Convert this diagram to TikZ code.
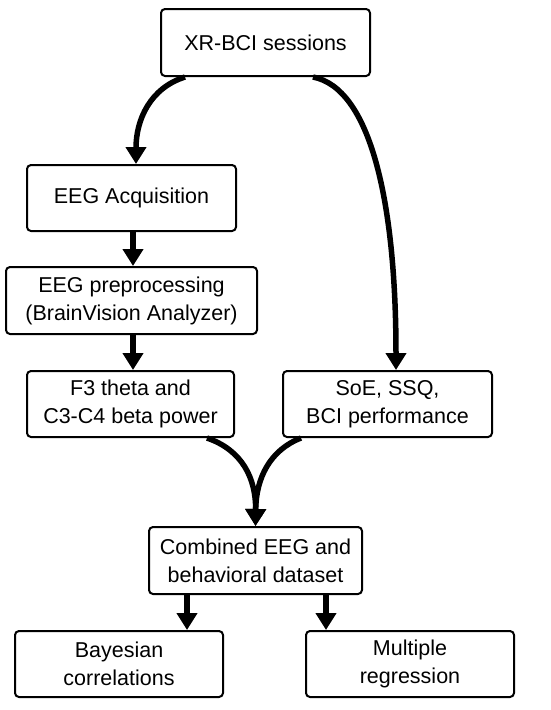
\documentclass[tikz,border=0pt]{standalone}
\usepackage{fontspec}
\setmainfont{Liberation Sans}
\usetikzlibrary{arrows.meta}
\begin{document}
\begin{tikzpicture}[x=1pt,y=-1pt,
  box/.style={draw=black,line width=2pt,rounded corners=4pt,fill=white,inner sep=0pt,align=center,
    font=\fontsize{21.5}{28}\selectfont},
  flow/.style={line width=5.5pt,-{Triangle[length=17pt,width=20pt]}}]
\fill[white] (0,0) rectangle (550,710);
\useasboundingbox (0,0) rectangle (550,710);
\node[box,minimum width=209pt,minimum height=67pt] (top) at (265.5,42.5) {XR-BCI sessions};
\node[box,minimum width=209pt,minimum height=66pt] (acq) at (131.5,198) {EEG Acquisition};
\node[box,minimum width=251pt,minimum height=67pt] (pre) at (131.5,300.5) {EEG preprocessing\\(BrainVision Analyzer)};
\node[box,minimum width=207pt,minimum height=66pt] (f3) at (130.5,404) {F3 theta and\\C3-C4 beta power};
\node[box,minimum width=209pt,minimum height=66pt] (soe) at (387.5,404) {SoE, SSQ,\\BCI performance};
\node[box,minimum width=213pt,minimum height=67pt] (comb) at (255.5,560.5) {Combined EEG and\\behavioral dataset};
\node[box,minimum width=208pt,minimum height=66pt] (bay) at (119,664) {Bayesian\\correlations};
\node[box,minimum width=208pt,minimum height=66pt] (mult) at (410,664) {Multiple\\regression};

\draw[flow] ([xshift=25pt]top.south west) .. controls (150,88) and (136,120) .. ([xshift=4.5pt]acq.north);
\draw[flow] ([xshift=-58pt]top.south east) .. controls (370,88) and (396,200) .. ([xshift=8.5pt]soe.north);
\draw[flow] ([xshift=1.5pt]acq.south) -- ([xshift=1.5pt]pre.north);
\draw[flow] ([xshift=1.5pt]pre.south) -- ([xshift=2.5pt]f3.north);
\draw[flow] ([xshift=-28pt]f3.south east) .. controls (242,450) and (256,478) .. (comb.north);
\draw[flow] ([xshift=19pt]soe.south west) .. controls (270,450) and (256,478) .. (comb.north);
\draw[flow] ([xshift=39pt]comb.south west) -- ([xshift=173pt]bay.north west);
\draw[flow] ([xshift=178pt]comb.south west) -- ([xshift=21pt]mult.north west);
\end{tikzpicture}
\end{document}
